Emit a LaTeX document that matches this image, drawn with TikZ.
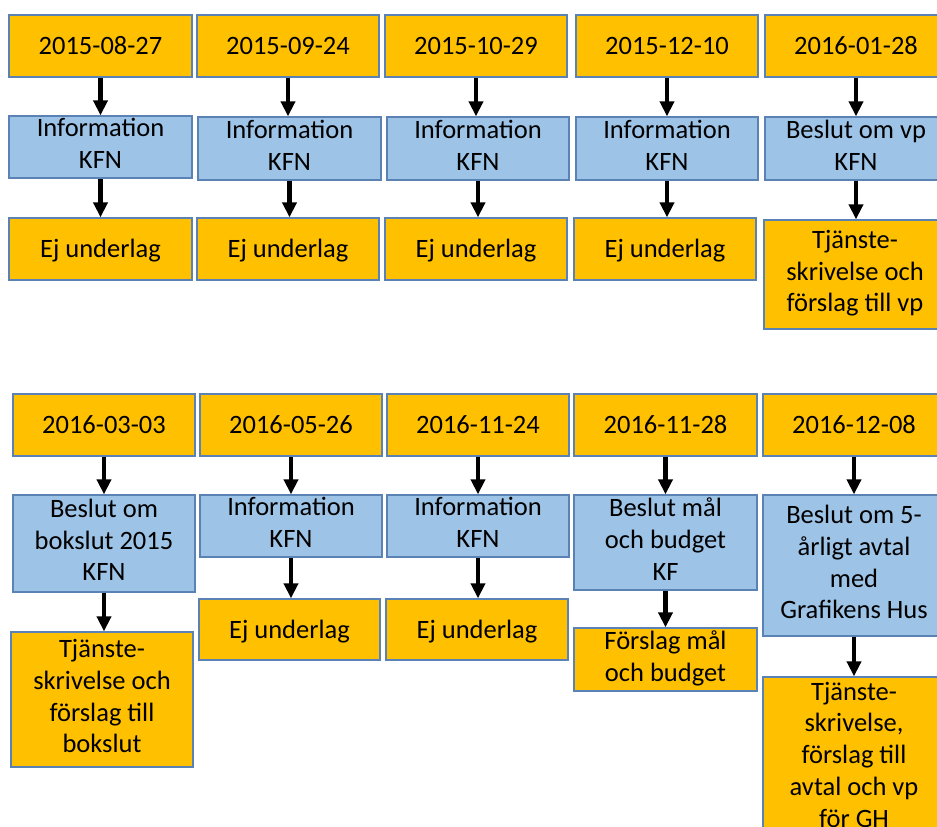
\documentclass[tikz,border=0pt]{standalone}
\usepackage{fontspec}
\setmainfont{Carlito}
\usetikzlibrary{arrows.meta}
\definecolor{org}{HTML}{FFC000}
\definecolor{blu}{HTML}{9DC3E6}
\definecolor{bord}{HTML}{5B82B5}
\newcommand\lnstrut{\rule[-7pt]{0pt}{31.75pt}}
\newcommand\BX[7]{\node[#1, minimum width={(#4-#3)*1pt}, minimum height={(#6-#5)*1pt}] (#2) at ({(#3+#4)/2},{(#5+#6)/2}) {#7};}
\tikzset{
  box/.style={rectangle, draw=bord, line width=1.3pt, inner sep=0pt, align=center, text=black,
    font=\fontsize{26.5pt}{31.75pt}\selectfont,
    execute at begin node=\lnstrut, execute at end node=\lnstrut},
  obox/.style={box, fill=org},
  bbox/.style={box, fill=blu},
  ghost/.style={box, draw=none, fill=none},
  ext/.style={draw=bord, line width=1.3pt},
  arr/.style={line width=4.3pt, black, -{Triangle[length=15pt,width=14pt]}},
}
\begin{document}
\begin{tikzpicture}[x=1pt,y=-1pt]
\useasboundingbox (0,0) rectangle (937,827);
\fill[white] (0,0) rectangle (937,827);
\clip (0,0) rectangle (937,827);
% ---- row 1
\BX{obox}{a1}{9}{192}{15}{77}{2015-08-27}
\BX{bbox}{b1}{9}{192}{116}{178}{Information\\KFN}
\BX{obox}{c1}{9}{192}{218}{280}{Ej underlag}
\BX{obox}{a2}{197}{379}{15}{77}{2015-09-24}
\BX{bbox}{b2}{198}{381}{117}{180}{Information\\KFN}
\BX{obox}{c2}{197}{379}{218}{280}{Ej underlag}
\BX{obox}{a3}{385}{567}{15}{77}{2015-10-29}
\BX{bbox}{b3}{387}{569}{117}{180}{Information\\KFN}
\BX{obox}{c3}{385}{567}{218}{280}{Ej underlag}
\BX{obox}{a4}{576}{758}{15}{77}{2015-12-10}
\BX{bbox}{b4}{576}{758}{117}{180}{Information\\KFN}
\BX{obox}{c4}{574}{756}{218}{280}{Ej underlag}
\path[ext, fill=org] (765,15) rectangle (960,77);
\path[ext, fill=blu] (765,117) rectangle (960,180);
\path[ext, fill=org] (764,220) rectangle (960,329);
\BX{ghost}{a5}{765}{947}{15}{77}{2016-01-28}
\BX{ghost}{b5}{765}{947}{117}{180}{Beslut om vp\\KFN}
\BX{ghost}{c5}{764}{946}{220}{329}{Tjänste-\\skrivelse och\\förslag till vp}
% ---- row 2
\BX{obox}{d1}{13}{195}{394}{456}{2016-03-03}
\BX{bbox}{e1}{13}{195}{495}{592}{Beslut om\\bokslut 2015\\KFN}
\BX{obox}{f1}{11}{193}{632}{767}{Tjänste-\\skrivelse och\\förslag till\\bokslut}
\BX{obox}{d2}{200}{382}{394}{456}{2016-05-26}
\BX{bbox}{e2}{200}{382}{495}{557}{Information\\KFN}
\BX{obox}{f2}{199}{380}{599}{660}{Ej underlag}
\BX{obox}{d3}{387}{569}{394}{456}{2016-11-24}
\BX{bbox}{e3}{387}{569}{495}{557}{Information\\KFN}
\BX{obox}{f3}{386}{568}{599}{660}{Ej underlag}
\BX{obox}{d4}{574}{757}{394}{456}{2016-11-28}
\BX{bbox}{e4}{574}{757}{495}{590}{Beslut mål\\och budget\\KF}
\BX{obox}{f4}{574}{757}{628}{691}{Förslag mål\\och budget}
\path[ext, fill=org] (763,394) rectangle (960,456);
\path[ext, fill=blu] (763,495) rectangle (960,636);
\path[ext, fill=org] (763,677) rectangle (960,845);
\BX{ghost}{d5}{763}{945}{394}{456}{2016-12-08}
\BX{ghost}{e5}{763}{945}{495}{636}{Beslut om 5-\\årligt avtal\\med\\Grafikens Hus}
\BX{ghost}{f5}{763}{945}{677}{839}{Tjänste-\\skrivelse,\\förslag till\\avtal och vp\\för GH}
% ---- arrows
\foreach \p/\q/\r in {a1/b1/c1,a2/b2/c2,a3/b3/c3,a4/b4/c4,a5/b5/c5,d1/e1/f1,d2/e2/f2,d3/e3/f3,d4/e4/f4,d5/e5/f5}{
  \draw[arr] (\p.south) -- (\p.south |- \q.north);
  \draw[arr] (\q.south) -- (\q.south |- \r.north);
}
\end{tikzpicture}
\end{document}
